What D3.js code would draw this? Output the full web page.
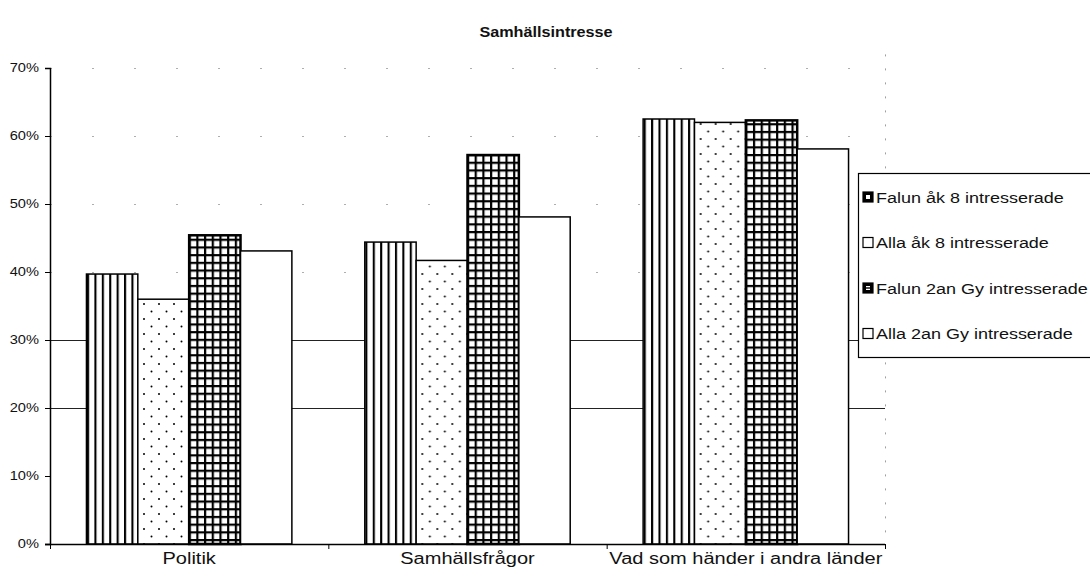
<!DOCTYPE html>
<html lang="sv">
<head>
  <meta charset="utf-8">
  <title>Samhällsintresse</title>
  <script src="https://d3js.org/d3.v7.min.js"></script>
  <style>
    body {
      margin: 0;
      background: #fff;
      font-family: "Liberation Sans", Arial, Helvetica, sans-serif;
      overflow: hidden;
    }
    .title { font-size: 15px; font-weight: bold; fill: #111; }
    .tick text { font-size: 12px; fill: #111; }
    .cat-label { font-size: 16px; fill: #111; }
    .legend-text { font-size: 15px; fill: #111; }
  </style>
</head>
<body>
  <div id="chart"></div>
  <script>
    // Data
    const categories = ["Politik", "Samhällsfrågor", "Vad som händer i andra länder"];
    const seriesNames = [
      "Falun åk 8 intresserade",
      "Alla åk 8 intresserade",
      "Falun 2an Gy intresserade",
      "Alla 2an Gy intresserade"
    ];
    const falunAk8 = [0.397, 0.444, 0.625];
    const allaAk8 = [0.360, 0.417, 0.620];
    const falun2an = [0.454, 0.572, 0.623];
    const alla2an = [0.431, 0.481, 0.581];
    const yTicks = [0, 0.1, 0.2, 0.3, 0.4, 0.5, 0.6, 0.7];

    const seriesValues = [falunAk8, allaAk8, falun2an, alla2an];
    const patternIds = ["stripes", "dots", "grid", "plain"];

    const width = 1090, height = 581;
    const margin = {top: 68, right: 205, bottom: 37, left: 50};
    // the scanned original is a bit wider than a normal Arial
    const stretch = 1.22;

    const svg = d3.select("#chart").append("svg")
      .attr("width", width)
      .attr("height", height);

    // Patterns (hatches like the printed chart)
    const defs = svg.append("defs");

    const stripes = defs.append("pattern")
      .attr("id", "stripes")
      .attr("patternUnits", "userSpaceOnUse")
      .attr("width", 7.4).attr("height", 10);
    stripes.append("rect").attr("width", 7.4).attr("height", 10).attr("fill", "#fff");
    stripes.append("rect").attr("x", 0).attr("width", 2.1).attr("height", 10).attr("fill", "#000");

    const dots = defs.append("pattern")
      .attr("id", "dots")
      .attr("patternUnits", "userSpaceOnUse")
      .attr("width", 15).attr("height", 15);
    dots.append("rect").attr("width", 15).attr("height", 15).attr("fill", "#fff");
    dots.append("circle").attr("cx", 4).attr("cy", 4).attr("r", 1).attr("fill", "#000");
    dots.append("circle").attr("cx", 11.5).attr("cy", 11.5).attr("r", 1).attr("fill", "#000");

    const grid = defs.append("pattern")
      .attr("id", "grid")
      .attr("patternUnits", "userSpaceOnUse")
      .attr("width", 7.7).attr("height", 7.7);
    grid.append("rect").attr("width", 7.7).attr("height", 7.7).attr("fill", "#000");
    grid.append("rect").attr("x", 2.2).attr("y", 2.2).attr("width", 5.5).attr("height", 5.5).attr("fill", "#fff");

    const plain = defs.append("pattern")
      .attr("id", "plain")
      .attr("patternUnits", "userSpaceOnUse")
      .attr("width", 10).attr("height", 10);
    plain.append("rect").attr("width", 10).attr("height", 10).attr("fill", "#fff");

    // Scales
    const x0 = d3.scaleBand()
      .domain(categories)
      .range([margin.left, width - margin.right])
      .padding(0);

    const x1 = d3.scaleBand()
      .domain(seriesNames)
      .range([0, x0.bandwidth()])
      .paddingInner(0)
      .paddingOuter(0.71);

    const y = d3.scaleLinear()
      .domain([0, 0.7])
      .range([height - margin.bottom, margin.top]);

    // Title
    svg.append("text")
      .attr("class", "title")
      .attr("text-anchor", "middle")
      .attr("transform", `translate(546,37) scale(1.08,1)`)
      .text("Samhällsintresse");

    // Gridlines (faint, as in the scanned original)
    const gridG = svg.append("g");
    gridG.selectAll("line")
      .data(yTicks.filter(d => d > 0))
      .join("line")
      .attr("x1", margin.left)
      .attr("x2", width - margin.right)
      .attr("y1", d => Math.round(y(d)) + 0.5)
      .attr("y2", d => Math.round(y(d)) + 0.5)
      .attr("stroke", d => (d === 0.2 || d === 0.3) ? "#222" : "#999")
      .attr("stroke-width", d => (d === 0.2 || d === 0.3) ? 1 : 0.8)
      .attr("stroke-dasharray", d => (d === 0.2 || d === 0.3) ? null : (d === 0.1 ? "0 1000" : "2 40"));

    // Right border of plot area (dotted)
    svg.append("line")
      .attr("x1", width - margin.right + 0.5)
      .attr("x2", width - margin.right + 0.5)
      .attr("y1", y(0.72))
      .attr("y2", y(0))
      .attr("stroke", "#888")
      .attr("stroke-width", 0.8)
      .attr("stroke-dasharray", "2 12");

    // Bars
    const groups = svg.append("g")
      .selectAll("g")
      .data(categories)
      .join("g")
      .attr("transform", d => `translate(${x0(d)},0)`);

    groups.selectAll("rect")
      .data((cat, ci) => seriesNames.map((s, si) => ({series: s, si, value: seriesValues[si][ci]})))
      .join("rect")
      .attr("x", d => x1(d.series))
      .attr("y", d => y(d.value))
      .attr("width", x1.bandwidth())
      .attr("height", d => y(0) - y(d.value))
      .attr("fill", d => `url(#${patternIds[d.si]})`)
      .attr("stroke", "#000")
      .attr("stroke-width", d => d.si === 2 ? 2.5 : 1.5);

    // Y axis
    const yAxis = svg.append("g")
      .attr("transform", `translate(${margin.left},0)`)
      .call(d3.axisLeft(y).tickValues(yTicks).tickFormat(d3.format(".0%")).tickSize(5));
    yAxis.select(".domain").attr("stroke", "#000").attr("stroke-width", 1.5);
    yAxis.selectAll(".tick line").attr("stroke", "#000");
    yAxis.selectAll(".tick text")
      .attr("x", 0)
      .attr("transform", `translate(-11,0) scale(${stretch},1)`);

    // X axis with ticks at category boundaries
    const xAxisG = svg.append("g");
    xAxisG.append("line")
      .attr("x1", margin.left - 5)
      .attr("x2", width - margin.right)
      .attr("y1", y(0) + 0.5)
      .attr("y2", y(0) + 0.5)
      .attr("stroke", "#000")
      .attr("stroke-width", 1.5);
    const boundaries = categories.map(c => x0(c)).concat([x0(categories[categories.length - 1]) + x0.bandwidth()]);
    xAxisG.selectAll(".xt")
      .data(boundaries)
      .join("line")
      .attr("class", "xt")
      .attr("x1", d => d + 0.5)
      .attr("x2", d => d + 0.5)
      .attr("y1", y(0))
      .attr("y2", y(0) + 5)
      .attr("stroke", "#000");
    xAxisG.selectAll(".cat-label")
      .data(categories)
      .join("text")
      .attr("class", "cat-label")
      .attr("text-anchor", "middle")
      .attr("transform", d => `translate(${x0(d) + x0.bandwidth() / 2},${y(0) + 20}) scale(1.25,1)`)
      .text(d => d);

    // Legend
    const legend = svg.append("g").attr("transform", "translate(858,173)");
    legend.append("rect")
      .attr("x", 0.5).attr("y", 0.5)
      .attr("width", 260).attr("height", 184)
      .attr("fill", "#fff")
      .attr("stroke", "#000")
      .attr("stroke-width", 1.2);

    const items = legend.selectAll(".item")
      .data(seriesNames)
      .join("g")
      .attr("class", "item")
      .attr("transform", (d, i) => `translate(5,${24 + i * 45.5})`);
    items.append("rect")
      .attr("x", 0).attr("y", -5)
      .attr("width", 10).attr("height", 10)
      .attr("fill", (d, i) => i === 0 || i === 2 ? "#000" : "#fff")
      .attr("stroke", "#000")
      .attr("stroke-width", 1.2);
    items.filter((d, i) => i === 0 || i === 2).append("rect")
      .attr("x", 3).attr("y", -2)
      .attr("width", 4).attr("height", 4)
      .attr("fill", "#fff");
    items.filter((d, i) => i === 2).append("rect")
      .attr("x", 3).attr("y", -0.7)
      .attr("width", 4).attr("height", 1.4)
      .attr("fill", "#000");
    items.append("text")
      .attr("class", "legend-text")
      .attr("transform", `translate(13,5.5) scale(1.2,1)`)
      .text(d => d);
  </script>
</body>
</html>
